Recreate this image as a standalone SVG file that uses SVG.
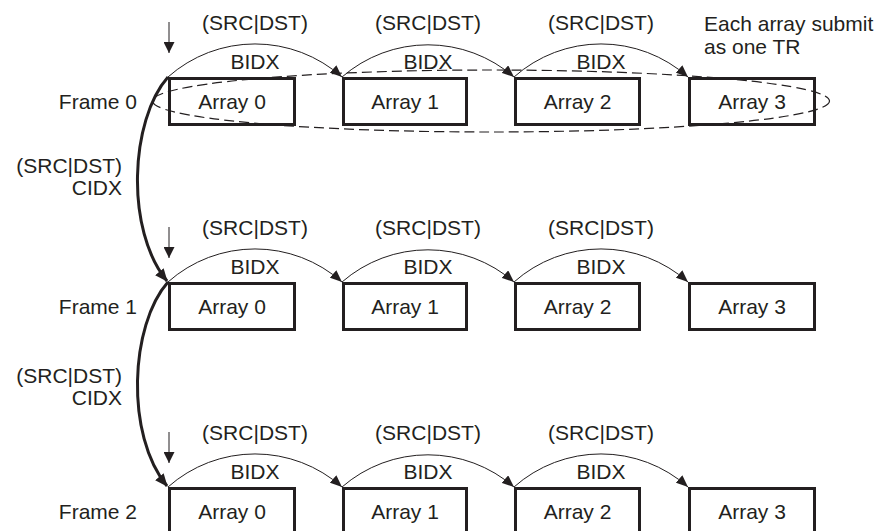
<svg xmlns="http://www.w3.org/2000/svg" width="881" height="531" viewBox="0 0 881 531">
<style>
text{font-family:"Liberation Sans",Arial,sans-serif;font-size:21px;fill:#231f20}
.box{fill:none;stroke:#231f20;stroke-width:3}
.mid{text-anchor:middle}
.end{text-anchor:end}
.thin{fill:none;stroke:#231f20;stroke-width:1}
.thick{fill:none;stroke:#231f20;stroke-width:3}
.dash{fill:none;stroke:#231f20;stroke-width:1.2;stroke-dasharray:10 5}
</style>
<defs>
<marker id="ah" viewBox="0 0 12 10" refX="12" refY="5" markerWidth="12" markerHeight="10" orient="auto" markerUnits="userSpaceOnUse"><path d="M0,0 L12,5 L0,10 z" fill="#231f20"/></marker>
<marker id="ahd" viewBox="0 0 11 11" refX="5.5" refY="11" markerWidth="11" markerHeight="11" orient="0" markerUnits="userSpaceOnUse"><path d="M0,0 L11,0 L5.5,11 z" fill="#231f20"/></marker>
<marker id="ahk" viewBox="0 0 13 11" refX="12" refY="5.5" markerWidth="13" markerHeight="11" orient="auto" markerUnits="userSpaceOnUse"><path d="M0,0 L13,5.5 L0,11 z" fill="#231f20"/></marker>
</defs>

<g id="note"><text x="704" y="31">Each array submit</text><text x="704" y="54">as one TR</text></g>

<g id="frame0">
<text class="end" x="137" y="109">Frame 0</text>
<g id="f0a0"><rect class="box" x="169.5" y="78.5" width="125" height="46"/><text class="mid" x="232" y="109">Array 0</text></g>
<g id="f0a1"><rect class="box" x="343.5" y="78.5" width="123" height="46"/><text class="mid" x="405" y="109">Array 1</text></g>
<g id="f0a2"><rect class="box" x="515.5" y="78.5" width="124" height="46"/><text class="mid" x="577.5" y="109">Array 2</text></g>
<g id="f0a3"><rect class="box" x="689.5" y="78.5" width="125" height="46"/><text class="mid" x="752" y="109">Array 3</text></g>
</g>

<g id="frame1">
<text class="end" x="137" y="314">Frame 1</text>
<g id="f1a0"><rect class="box" x="169.5" y="283.5" width="125" height="46"/><text class="mid" x="232" y="314">Array 0</text></g>
<g id="f1a1"><rect class="box" x="343.5" y="283.5" width="123" height="46"/><text class="mid" x="405" y="314">Array 1</text></g>
<g id="f1a2"><rect class="box" x="515.5" y="283.5" width="124" height="46"/><text class="mid" x="577.5" y="314">Array 2</text></g>
<g id="f1a3"><rect class="box" x="689.5" y="283.5" width="125" height="46"/><text class="mid" x="752" y="314">Array 3</text></g>
</g>

<g id="frame2">
<text class="end" x="137" y="519">Frame 2</text>
<g id="f2a0"><rect class="box" x="169.5" y="488.5" width="125" height="46"/><text class="mid" x="232" y="519">Array 0</text></g>
<g id="f2a1"><rect class="box" x="343.5" y="488.5" width="123" height="46"/><text class="mid" x="405" y="519">Array 1</text></g>
<g id="f2a2"><rect class="box" x="515.5" y="488.5" width="124" height="46"/><text class="mid" x="577.5" y="519">Array 2</text></g>
<g id="f2a3"><rect class="box" x="689.5" y="488.5" width="125" height="46"/><text class="mid" x="752" y="519">Array 3</text></g>
</g>

<g id="tr-group"><ellipse class="dash" cx="491" cy="101" rx="338.5" ry="31"/></g>

<g id="connectors">
<path class="thin" d="M169,22 L169,53" marker-end="url(#ahd)"/>
<path class="thin" d="M169,227 L169,258" marker-end="url(#ahd)"/>
<path class="thin" d="M169,432 L169,463" marker-end="url(#ahd)"/>
<path class="thin" d="M168,77 A131 131 0 0 1 342,77" marker-end="url(#ah)"/>
<path class="thin" d="M342,77 A131 131 0 0 1 514,77" marker-end="url(#ah)"/>
<path class="thin" d="M514,77 A131 131 0 0 1 688,77" marker-end="url(#ah)"/>
<path class="thin" d="M168,282 A131 131 0 0 1 342,282" marker-end="url(#ah)"/>
<path class="thin" d="M342,282 A131 131 0 0 1 514,282" marker-end="url(#ah)"/>
<path class="thin" d="M514,282 A131 131 0 0 1 688,282" marker-end="url(#ah)"/>
<path class="thin" d="M168,487 A131 131 0 0 1 342,487" marker-end="url(#ah)"/>
<path class="thin" d="M342,487 A131 131 0 0 1 514,487" marker-end="url(#ah)"/>
<path class="thin" d="M514,487 A131 131 0 0 1 688,487" marker-end="url(#ah)"/>
<path class="thick" d="M168,77 C130,120 125,230 167,281" marker-end="url(#ahk)"/>
<path class="thick" d="M168,282 C130,325 125,435 167,486" marker-end="url(#ahk)"/>
</g>

<g id="labels">
<text class="mid" x="255" y="30">(SRC|DST)</text>
<text class="mid" x="428" y="30">(SRC|DST)</text>
<text class="mid" x="601" y="30">(SRC|DST)</text>
<text class="mid" x="255" y="69">BIDX</text>
<text class="mid" x="428" y="69">BIDX</text>
<text class="mid" x="601" y="69">BIDX</text>
<text class="mid" x="255" y="235">(SRC|DST)</text>
<text class="mid" x="428" y="235">(SRC|DST)</text>
<text class="mid" x="601" y="235">(SRC|DST)</text>
<text class="mid" x="255" y="274">BIDX</text>
<text class="mid" x="428" y="274">BIDX</text>
<text class="mid" x="601" y="274">BIDX</text>
<text class="mid" x="255" y="440">(SRC|DST)</text>
<text class="mid" x="428" y="440">(SRC|DST)</text>
<text class="mid" x="601" y="440">(SRC|DST)</text>
<text class="mid" x="255" y="479">BIDX</text>
<text class="mid" x="428" y="479">BIDX</text>
<text class="mid" x="601" y="479">BIDX</text>
<text class="end" x="122" y="173">(SRC|DST)</text>
<text class="end" x="122" y="195">CIDX</text>
<text class="end" x="122" y="383">(SRC|DST)</text>
<text class="end" x="122" y="405">CIDX</text>
</g>
</svg>
